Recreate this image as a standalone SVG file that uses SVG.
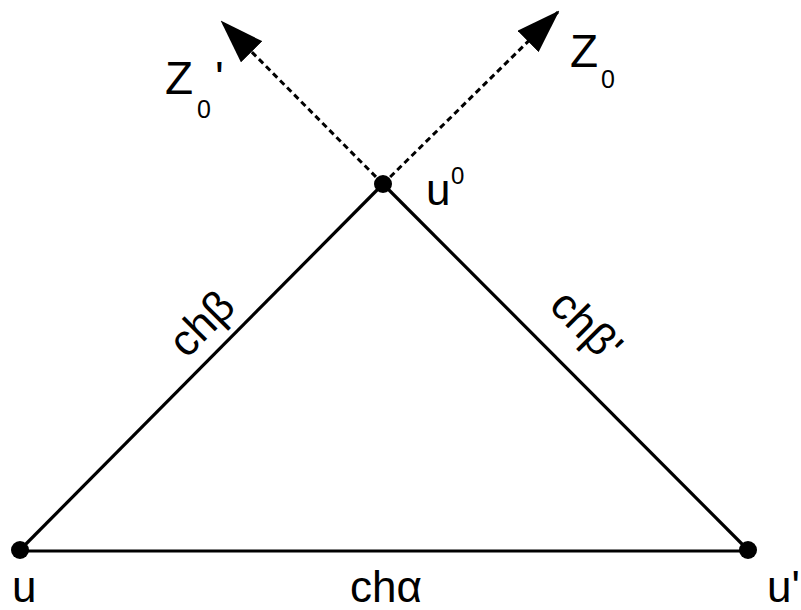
<svg xmlns="http://www.w3.org/2000/svg" width="801" height="610" viewBox="0 0 801 610">
<style>
.t{font-family:"Liberation Sans",Arial,sans-serif;fill:#000}
.edge{stroke:#000;stroke-width:3.2;fill:none}
.dash{stroke:#000;stroke-width:3;fill:none;stroke-dasharray:6 4}
</style>
<defs>
<marker id="ah" markerUnits="userSpaceOnUse" markerWidth="44" markerHeight="30" refX="42" refY="15" orient="auto" viewBox="0 0 44 30">
<path d="M0,0 L44,15 L0,30 Z" fill="#000"/>
</marker>
</defs>
<rect width="801" height="610" fill="#fff"/>
<g id="connectors">
<line class="edge" x1="20" y1="550" x2="383" y2="184"/>
<line class="edge" x1="383" y1="184" x2="748" y2="550"/>
<line class="edge" x1="20" y1="551" x2="748" y2="551"/>
<line class="dash" x1="383" y1="184" x2="222" y2="22" marker-end="url(#ah)"/>
<line class="dash" x1="383" y1="184" x2="558" y2="12" marker-end="url(#ah)"/>
<text class="t" font-size="44" transform="translate(212,334) rotate(-45.2)" text-anchor="middle">chβ</text>
<text class="t" font-size="44" transform="translate(576,336) rotate(45.1)" text-anchor="middle">chβ'</text>
<text class="t" font-size="44" x="386" y="602" text-anchor="middle">chα</text>
</g>
<g id="node-u0">
<circle cx="383" cy="184" r="9" fill="#000"/>
<text class="t" font-size="44" x="426" y="205">u</text>
<text class="t" font-size="24" x="451" y="184">0</text>
</g>
<g id="node-u">
<circle cx="20" cy="550" r="9" fill="#000"/>
<text class="t" font-size="44" x="12" y="602">u</text>
</g>
<g id="node-u1">
<circle cx="748" cy="550" r="9" fill="#000"/>
<text class="t" font-size="44" x="767" y="602">u'</text>
</g>
<g id="node-z0p">
<text class="t" font-size="46" x="165" y="94">Z</text>
<text class="t" font-size="25" x="197" y="118">0</text>
<text class="t" font-size="46" x="215" y="94">'</text>
</g>
<g id="node-z0">
<text class="t" font-size="46" x="570" y="67">Z</text>
<text class="t" font-size="25" x="601" y="88">0</text>
</g>
</svg>
